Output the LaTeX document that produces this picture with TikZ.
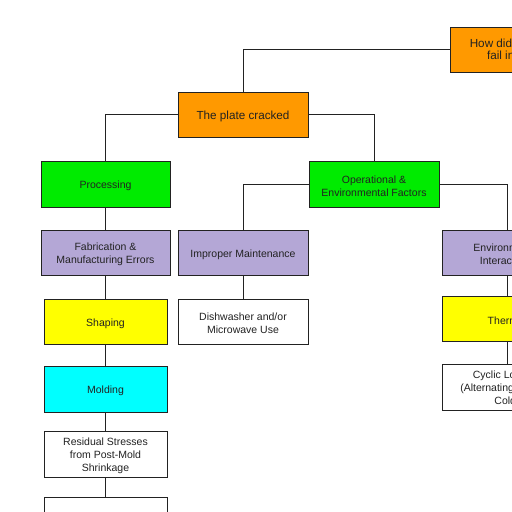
\documentclass[tikz,border=0pt]{standalone}
\usepackage{fontspec}
\setmainfont{Liberation Sans}
\begin{document}
\definecolor{cOrange}{RGB}{255,153,0}
\definecolor{cGreen}{RGB}{0,235,0}
\definecolor{cLav}{RGB}{180,167,214}
\definecolor{cYellow}{RGB}{255,255,0}
\definecolor{cCyan}{RGB}{0,255,255}
\definecolor{cInk}{RGB}{34,34,34}
\begin{tikzpicture}[x=1pt,y=-1pt,
  box/.style={draw=cInk,line width=0.8pt,minimum width=130pt,minimum height=45pt,inner sep=0pt},
  boxtext/.style={align=center,text=cInk,inner sep=0pt,yshift=-2pt,
    font=\fontsize{10.5}{13}\selectfont},
  lbl/.style={label={[boxtext]center:#1}},
  biglbl/.style={label={[boxtext,font=\fontsize{11.7}{12.5}\selectfont]center:#1}},
  toplbl/.style={label={[boxtext,yshift=2pt,font=\fontsize{11.7}{12.5}\selectfont]center:#1}},
  narrow/.style={minimum width=123pt},
  link/.style={draw=cInk,line width=0.8pt}]
\useasboundingbox (0,0) rectangle (512,512);
\clip (0,0) rectangle (512,512);

% top of the tree
\node[box,fill=cOrange,toplbl={How did the plate\\fail in use?}] (root) at (515,49.5) {};
\node[box,fill=cOrange,biglbl={The plate cracked}] (plate) at (243,114.5) {};

% second level
\node[box,fill=cGreen,minimum width=129pt,minimum height=46pt,lbl={Processing}] (proc) at (105.5,184) {};
\node[box,fill=cGreen,minimum height=46pt,lbl={Operational \&\\Environmental Factors}] (oper) at (374,184) {};

% third level
\node[box,fill=cLav,minimum width=129pt,lbl={Fabrication \&\\Manufacturing Errors}] (fab) at (105.5,252.5) {};
\node[box,fill=cLav,lbl={Improper Maintenance}] (maint) at (243,252.5) {};
\node[box,fill=cLav,lbl={Environmental\\Interactions}] (env) at (507,252.5) {};

% processing branch
\node[box,narrow,fill=cYellow,lbl={Shaping}] (shape) at (105.5,321.5) {};
\node[box,narrow,fill=cCyan,minimum height=46pt,lbl={Molding}] (mold) at (105.5,389) {};
\node[box,narrow,fill=white,minimum height=46pt,lbl={Residual Stresses\\from Post-Mold\\Shrinkage}] (resid) at (105.5,454) {};
\node[box,narrow,fill=white,minimum height=46pt] (next) at (105.5,520) {};

% maintenance branch
\node[box,fill=white,lbl={Dishwasher and/or\\Microwave Use}] (dish) at (243,321.5) {};

% environment branch
\node[box,fill=cYellow,lbl={Thermal}] (therm) at (507,318.5) {};
\node[box,fill=white,minimum height=46pt,lbl={Cyclic Loading\\(Alternating Hot and\\Cold)}] (cyc) at (507,387) {};

% connectors
\draw[link] (root.west) -| (plate.north);
\draw[link] (plate.west) -| (proc.north);
\draw[link] (plate.east) -| (oper.north);
\draw[link] (oper.west) -| (maint.north);
\draw[link] (oper.east) -| (env.north);
\draw[link] (proc.south) -- (fab.north);
\draw[link] (fab.south) -- (shape.north);
\draw[link] (shape.south) -- (mold.north);
\draw[link] (mold.south) -- (resid.north);
\draw[link] (resid.south) -- (next.north);
\draw[link] (maint.south) -- (dish.north);
\draw[link] (env.south) -- (therm.north);
\draw[link] (therm.south) -- (cyc.north);
\end{tikzpicture}
\end{document}
